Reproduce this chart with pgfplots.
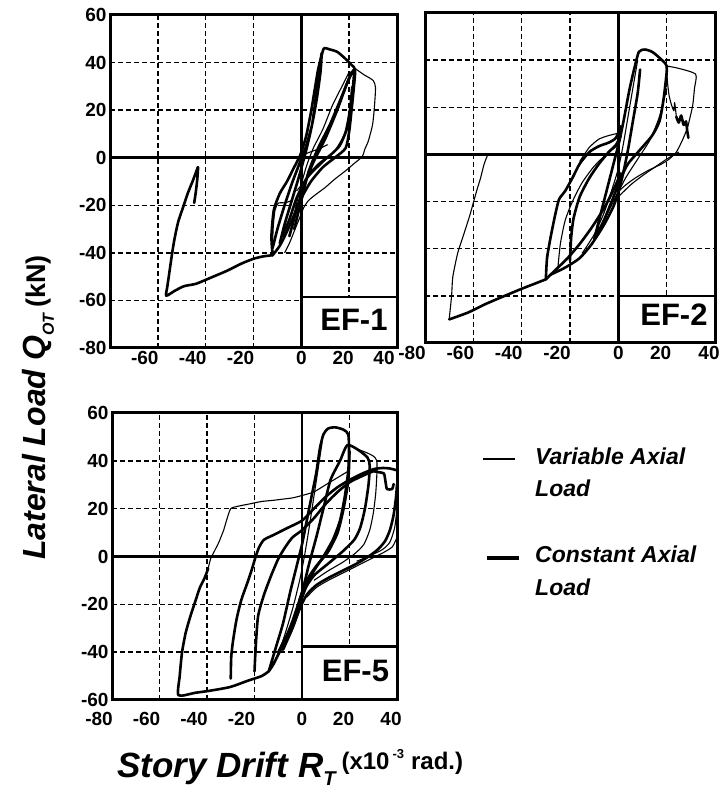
\documentclass[border=0pt]{standalone}
\usepackage{fontspec}
\setmainfont{Liberation Sans}
\usepackage{pgfplots}
\pgfplotsset{compat=1.18}
\newcommand\nl[1]{\makebox[0pt]{#1\hspace{26pt}}}
\newcommand\pl[1]{\makebox[0pt]{#1\hspace{12pt}}}
\newcommand\zl[1]{\makebox[0pt]{#1}}
\pgfplotsset{
  panel/.style={scale only axis, anchor=south west, xmin=-80, xmax=40,
    axis line style={line width=2.8pt},
    grid=major, major grid style={black, line width=1.4pt, dash pattern=on 4.5pt off 3.5pt},
    major tick length=0pt,
    tick label style={font=\fontsize{19}{19}\selectfont\bfseries},
    clip=false},
  thinc/.style={black, line width=1.1pt, smooth, tension=0.4, no markers, line join=round},
  thickc/.style={black, line width=2.6pt, smooth, tension=0.4, no markers, line join=round, line cap=round}
}
\begin{document}
\begin{tikzpicture}[x=1pt,y=1pt]
\path[use as bounding box] (0,0) rectangle (720,789);

% ---------------- EF-1 ----------------
\begin{axis}[panel, at={(110pt,441pt)}, width=287pt, height=333pt,
  ymin=-80, ymax=60,
  xtick={-60,-40,-20,0,20,40}, xticklabels={\nl{-60},\nl{-40},\nl{-20},\zl{0},\pl{20},\nl{40}},
  ytick={-80,-60,-40,-20,0,20,40,60}, yticklabels={-80,-60,-40,-20,0,20,40,60}]
\draw[line width=2.5pt] (axis cs:0,-80) -- (axis cs:0,60);
\draw[line width=2.5pt] (axis cs:-80,0) -- (axis cs:40,0);
\addplot[thickc] coordinates {(-12,-41) (-12.5,-33) (-11.5,-22) (-9,-15) (-6,-10) (-3,-4) (-0.5,1) (2,9) (4,19) (5.5,28) (7,37) (8.5,43) (9.5,46) (12,45.5) (15,44.5) (18,42) (21,39) (22.5,37) (22,30) (21,20) (20,11) (18.5,4) (14,0) (9,-4) (4,-10) (0,-17) (-3,-24) (-6,-31) (-9,-37) (-12,-41)};
\addplot[thickc] coordinates {(-12,-41) (-16,-41.5) (-20,-42.5) (-25,-44.5) (-31,-47.5) (-38,-50.5) (-44,-53) (-49,-54) (-53,-56) (-56.5,-58) (-56,-54) (-55,-47) (-54,-40) (-53,-34) (-51.5,-27) (-49.5,-21) (-47.5,-15) (-45.5,-10) (-44,-6) (-43.2,-4) (-43.5,-9) (-44.2,-15) (-44.8,-19)};
\addplot[thickc] coordinates {(-9,-36) (-7,-28) (-4,-18) (-1,-8) (2,3) (4.5,14) (6,25) (7.5,36) (8.5,44) (8,36) (6.5,25) (4.5,14) (2,5) (-1,-3) (-4,-11) (-7,-20) (-10,-30) (-12,-38)};
\addplot[thickc] coordinates {(-5,-33) (-2,-22) (1,-12) (5,-2) (10,8) (15,20) (19,31) (22,37) (21.5,29) (20.5,20) (19,12) (16,5) (12,1) (7,-3) (2,-9) (-2,-17) (-5,-26) (-8,-33)};
\addplot[thickc] coordinates {(-3,-30) (0,-18) (3,-6) (7,4) (12,14) (17,26) (21,36)};
\addplot[thinc] coordinates {(22.5,37.5) (26,35) (30,32.5) (31,29.5) (30.6,22) (29.8,14) (28,7) (26.5,3.5) (25.5,0.5) (22,-2.5) (18.5,-5.5) (14,-9) (10,-12.5) (6,-15.5) (3,-18) (1,-21) (-1,-26) (-3,-31) (-5,-36) (-7,-40)};
\addplot[thinc] coordinates {(-4,-28) (-1,-15) (2,-4) (5,4) (9,12) (13,22) (17,30) (20,36)};
\addplot[thinc] coordinates {(-12,-40) (-11.8,-30) (-11,-22) (-9.5,-19) (-7,-19) (-4,-18)};
\addplot[thinc] coordinates {(0,1) (4,2.5) (8,4) (11,5.5)};
\addplot[thinc] coordinates {(-2,-14) (3,-8) (9,-2) (14,3) (18,10) (20,20) (21,30)};
\draw[line width=2.5pt, fill=white] (axis cs:0,-80) rectangle (axis cs:40,-58.5);
\node[font=\fontsize{31}{31}\selectfont\bfseries] at (axis cs:22,-68) {EF-1};
\draw[line width=3pt] (rel axis cs:0,0) rectangle (rel axis cs:1,1);
\end{axis}

% ---------------- EF-2 ----------------
\begin{axis}[panel, at={(425pt,446pt)}, width=290pt, height=330pt,
  ymin=-80, ymax=60,
  xtick={-80,-60,-40,-20,0,20,40}, xticklabels={\nl{-80},\nl{-60},\nl{-40},\nl{-20},\zl{0},\pl{20},\pl{40}},
  ytick={-80,-60,-40,-20,0,20,40,60}, yticklabels={}]
\draw[line width=2.5pt] (axis cs:0,-80) -- (axis cs:0,60);
\draw[line width=2.5pt] (axis cs:-80,0) -- (axis cs:40,0);
\addplot[thickc] coordinates {(-10,-36) (-7,-24) (-4,-12) (-1.5,-2) (0.5,6) (2.5,16) (4.5,27) (6.5,36) (8.5,43.5) (11,44.5) (14,43.5) (17,41) (20,37.5) (19.5,30) (18.5,22) (17,14) (14,8) (9,2) (4,-4) (1,-10) (-2,-18) (-6,-28) (-10,-36)};
\addplot[thickc] coordinates {(-30,-53) (-29.5,-44) (-28,-35) (-26,-25) (-24.5,-19) (-22,-15.5) (-19,-10) (-16,-4) (-12,1) (-8,3.5) (-4,5) (-1,7) (1,12)};
\addplot[thickc] coordinates {(1,-8) (-2,-15) (-6,-23) (-11,-31) (-16,-38) (-21,-44) (-26,-49) (-30,-53)};
\addplot[thickc] coordinates {(-30,-53) (-35,-55) (-40,-57) (-47,-60) (-55,-63.5) (-62,-67) (-70,-70)};
\addplot[thinc] coordinates {(-70,-70) (-69,-60) (-68.5,-52) (-66.5,-42) (-64,-34) (-61.5,-26) (-60,-20.5) (-58.5,-15) (-57,-10) (-55.5,-4) (-54,0)};
\addplot[thickc] coordinates {(-20,-45) (-19.5,-35) (-18.5,-27) (-16,-18) (-12,-10) (-8,-4) (-4,1) (-1,4) (1,8)};
\addplot[thickc] coordinates {(-28,-51) (-22,-48) (-16,-44) (-11,-38) (-6,-30) (-2,-22) (0,-16) (2,-8) (4,2) (6,14) (8,26) (9,36)};
\addplot[thinc] coordinates {(-25,-48) (-24,-38) (-22,-28) (-19,-20) (-15,-12) (-10,-5) (-5,0) (0,4)};
\addplot[thinc] coordinates {(-15,-42) (-10,-34) (-6,-25) (-3,-16) (0,-6) (2,4) (4,16) (6,28) (8,40)};
\addplot[thinc] coordinates {(20,37.5) (25,36.5) (32,34) (31.5,28) (30.8,21) (29.5,15) (28.5,11) (26.5,6) (24,1) (21,-2) (18,-4) (12,-7) (7,-10) (3,-13) (0,-16) (-3,-22) (-6,-28)};
\addplot[thinc] coordinates {(20,37) (20.3,31) (21,25) (22,21) (23,18.5) (23.3,22) (24,16)};
\addplot[thickc] coordinates {(24,16) (25,13.5) (26,16.5) (27,12.5) (28,14) (28.5,10) (29,7)};
\addplot[thinc] coordinates {(0,-18) (5,-13) (10,-9) (15,-5.5) (20,-2) (25,1)};
\addplot[thinc] coordinates {(-2,-20) (3,-10) (8,-2) (13,6) (17,16) (20,28)};
\addplot[thinc] coordinates {(-16,-3) (-12,3) (-8,6.5) (-4,8) (0,9)};
\draw[line width=2.5pt, fill=white] (axis cs:0,-80) rectangle (axis cs:40,-60);
\node[font=\fontsize{31}{31}\selectfont\bfseries] at (axis cs:23,-68) {EF-2};
\draw[line width=3pt] (rel axis cs:0,0) rectangle (rel axis cs:1,1);
\end{axis}

% ---------------- EF-5 ----------------
\begin{axis}[panel, at={(112pt,89pt)}, width=285pt, height=287pt,
  ymin=-60, ymax=60,
  xtick={-80,-60,-40,-20,0,20,40}, xticklabels={\nl{-80},\nl{-60},\nl{-40},\nl{-20},\zl{0},\pl{20},\pl{40}},
  xticklabel style={yshift=-9pt},
  ytick={-60,-40,-20,0,20,40,60}, yticklabels={-60,-40,-20,0,20,40,60}]
\draw[line width=2.5pt] (axis cs:0,-60) -- (axis cs:0,60);
\draw[line width=2.5pt] (axis cs:-80,0) -- (axis cs:40,0);
\addplot[thickc] coordinates {(-14,-48) (-11,-38) (-8,-28) (-5,-15) (-2,-3) (0,5) (2,15) (4,25) (6,35) (7.5,45) (9,51) (11,53.5) (14,54) (17.5,53) (19.5,51) (19.8,44) (19.5,36) (18,25) (16,15) (13,7) (9,0) (5,-6) (2,-12) (-1,-20) (-4,-28) (-8,-37) (-12,-45) (-14,-48)};
\addplot[thickc] coordinates {(-14,-48) (-17,-50) (-23,-52) (-30,-54.5) (-38,-56) (-45,-57) (-52,-58) (-51.5,-50) (-50.5,-40) (-49,-32) (-47,-25) (-45,-19) (-43,-13) (-41,-9) (-39.5,-5)};
\addplot[thinc] coordinates {(-39.5,-5) (-38.5,-1) (-37,2) (-35,6) (-33,11) (-31.5,16) (-30,20) (-27,21) (-22,22) (-17,23) (-12,23.5) (-8,24) (-4,24.5) (0,25.5) (5,27) (10,30) (15,33) (20,36)};
\addplot[thickc] coordinates {(-30,-51) (-29.8,-42) (-29,-35) (-27.5,-26) (-25.5,-18) (-23,-11) (-21,-5) (-19.5,0) (-18,4) (-16,7) (-12,9) (-6,12) (0,15) (5,20) (10,25) (15,29) (20,32) (25,34.5) (30,36.5) (34,37) (37,36.8) (40,36)};
\addplot[thickc] coordinates {(-20,-48) (-19.5,-38) (-18.5,-25) (-16,-16) (-13,-8) (-10,-1) (-7,4) (-4,8) (0,11) (5,16) (10,22) (15,27) (20,31) (25,33.5) (30,35.6) (32.4,35.2) (34.5,34.7) (35.2,31) (35.8,28.2) (37.9,28.2) (38.6,30.3)};
\addplot[thinc] coordinates {(-12,-45) (-8,-35) (-4,-22) (-1,-10) (1,0) (3,12) (5,25) (7,38) (8.5,48)};
\addplot[thickc] coordinates {(-5,-30) (0,-15) (3,-3) (6,8) (9,20) (12,32) (16,40) (19,46.5) (23,45) (27.5,41.5) (28.5,38) (28,30) (26.5,20) (24.5,12) (22,7) (17,2) (11,-3) (5,-8) (1,-14) (-2,-22) (-6,-32) (-10,-40)};
\addplot[thinc] coordinates {(23,45) (27,43.5) (30,42) (31.5,40) (31.5,34) (31,26) (30,18) (28.5,11) (26,5) (22,1) (17,-2.5) (11,-6) (5,-10)};
\addplot[thickc] coordinates {(20,44) (19.5,32) (17.5,20) (15,10) (11,2) (6,-4) (2,-10) (-1,-18)};
\addplot[thickc] coordinates {(40,30) (39.5,24) (38.5,17) (37,11) (35,6.5) (32,3) (28,0) (23,-3) (17,-6) (11,-9) (6,-12) (2,-16) (-1,-22) (-4,-30) (-8,-39)};
\addplot[thinc] coordinates {(40,8) (38,4) (34,1.5) (29,-1) (23,-4) (17,-7) (11,-10) (6,-13) (2,-17)};
\addplot[thinc] coordinates {(40,20) (39,12) (37,6) (34,3) (29,0.5) (23,-2)};
\draw[line width=2.5pt, fill=white] (axis cs:0,-60) rectangle (axis cs:40,-37.7);
\node[font=\fontsize{31}{31}\selectfont\bfseries] at (axis cs:22.5,-48) {EF-5};
\draw[line width=3pt] (rel axis cs:0,0) rectangle (rel axis cs:1,1);
\end{axis}

% ---------------- legend ----------------
\draw[line width=1.1pt] (483,330) -- (515,330);
\node[anchor=base west, inner sep=0pt, font=\fontsize{23}{23}\selectfont\bfseries\itshape] at (535,324) {Variable Axial};
\node[anchor=base west, inner sep=0pt, font=\fontsize{23}{23}\selectfont\bfseries\itshape] at (535,292) {Load};
\draw[line width=3.2pt] (487,231) -- (519,231);
\node[anchor=base west, inner sep=0pt, font=\fontsize{23}{23}\selectfont\bfseries\itshape] at (535,226) {Constant Axial};
\node[anchor=base west, inner sep=0pt, font=\fontsize{23}{23}\selectfont\bfseries\itshape] at (535,193) {Load};

% ---------------- axis titles ----------------
\node[rotate=90, anchor=base west, inner sep=0pt] at (46,229)
  {\fontsize{32}{32}\selectfont\bfseries\itshape Lateral Load Q\raisebox{-0.25em}{\fontsize{16}{16}\selectfont OT}\hspace{6pt}\upshape\fontsize{27}{27}\selectfont(kN)};
\node[anchor=base west, inner sep=0pt] at (117,11)
  {\fontsize{35}{35}\selectfont\bfseries\itshape Story Drift R\raisebox{-0.2em}{\fontsize{20}{20}\selectfont T}\hspace{6pt}\upshape\fontsize{24}{24}\selectfont\raisebox{9pt}{(x10\hspace{3pt}\raisebox{0.45em}{\fontsize{13}{13}\selectfont -3}\hspace{7pt}rad.)}};
\end{tikzpicture}
\end{document}
